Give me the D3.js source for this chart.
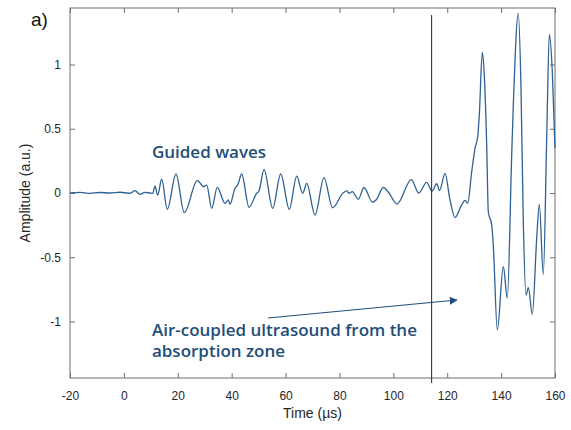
<!DOCTYPE html>
<html>
<head>
<meta charset="utf-8">
<script src="https://cdn.jsdelivr.net/npm/d3@7"></script>
<style>
  body { margin: 0; background: #fff; }
  svg { display: block; }
</style>
</head>
<body>
<svg id="chart" width="571" height="430"></svg>
<script>
// signal: time (µs) and amplitude (a.u.)
var time = [
  -20, -16.3, -12.6, -8.9, -5.2, -1.4, 2.3, 4.1, 6.0, 7.8, 9.7, 10.7,
  11.55, 12.55, 14.03, 16.11, 19.34, 22.42, 27.25, 28.6, 29.47, 30.73,
  32.59, 34.67, 37.53, 38.75, 39.38, 41.24, 42.24, 43.73, 46.43, 49.29,
  50.15, 52.0, 55.23, 58.2, 61.39, 64.14, 66.36, 67.85, 70.93, 74.27,
  77.43, 81.43, 82.7, 83.55, 84.77, 87.0, 89.12, 92.27, 93.75, 96.28,
  98.4, 101.36, 106.67, 109.42, 112.39, 114.36, 116.1, 117.17, 119.18,
  121.03, 122.89, 125.37, 126.6, 127.6, 129.09, 130.31, 131.31, 131.91,
  133.02, 133.76, 134.65, 135.25, 136.51, 137.1, 138.59, 140.82, 142.3,
  143.93, 144.53, 146.38, 147.38, 148.24, 149.24, 150.1, 151.58, 153.21,
  154.18, 155.66, 156.92, 157.89, 159.0, 160.0
];
var amplitude = [
  0.0, 0.005, -0.003, 0.004, 0.0, 0.006, -0.002, 0.018, -0.01, 0.005, 0.0, -0.003,
  0.054, -0.016, 0.107, -0.127, 0.148, -0.153, 0.096, 0.07, 0.049, 0.062,
  -0.119, 0.044, -0.08, -0.054, -0.086, 0.037, 0.062, 0.148, -0.111, -0.002,
  0.016, 0.184, -0.119, 0.148, -0.127, 0.132, -0.002, 0.075, -0.171, 0.119,
  -0.115, 0.002, 0.016, -0.002, 0.01, -0.049, 0.043, -0.072, -0.051, 0.043,
  0.0, -0.086, 0.104, 0.0, 0.083, 0.014, 0.072, 0.019, 0.153,
  -0.054, -0.191, -0.093, -0.057, -0.08, 0.166, 0.348, 0.438, 0.607,
  1.095, 0.918, 0.374, -0.146, -0.249, -0.405, -1.066, -0.574, -0.819,
  0.296, 0.685, 1.398, 0.815, -0.223, -0.794, -0.737, -0.944, -0.353,
  -0.088, -0.633, 0.426, 1.235, 0.944, 0.348
];
var xTicks = [-20, 0, 20, 40, 60, 80, 100, 120, 140, 160];
var yTicks = [-1, -0.5, 0, 0.5, 1];
var markerTime = 114.2;

var svg = d3.select("#chart"),
  margin = {top: 8, right: 16, bottom: 52, left: 70},
  width = 571 - margin.left - margin.right,
  height = 430 - margin.top - margin.bottom,
  axisColor = "#6e6e6e",
  noteColor = "#1f4e79";

var x = d3.scaleLinear().domain([-20, 160]).range([0, width]);
var y = d3.scaleLinear().domain([-1.44, 1.44]).range([height, 0]);

// plain hyphen like the original, not d3's unicode minus
var plain = function(d) { return String(d); };

var g = svg.append("g").attr("transform", "translate(" + margin.left + "," + margin.top + ")");

function styleAxis(sel) {
  sel.select(".domain").remove();
  sel.selectAll("line").attr("stroke", axisColor);
  sel.selectAll("text")
    .attr("fill", "#262626")
    .style("font-family", "Liberation Sans, Arial, sans-serif")
    .style("font-size", "12px");
}

// bottom / left axes with inward ticks
g.append("g")
  .attr("transform", "translate(0," + height + ")")
  .call(d3.axisBottom(x).tickValues(xTicks).tickSizeInner(-5).tickSizeOuter(0).tickPadding(13)
    .tickFormat(plain))
  .call(styleAxis);
g.append("g")
  .call(d3.axisLeft(y).tickValues(yTicks).tickSizeInner(-5).tickSizeOuter(0).tickPadding(9)
    .tickFormat(plain))
  .call(styleAxis);
// top / right ticks only
g.append("g")
  .call(d3.axisTop(x).tickValues(xTicks).tickSizeInner(-5).tickSizeOuter(0).tickFormat(""))
  .call(styleAxis);
g.append("g")
  .attr("transform", "translate(" + width + ",0)")
  .call(d3.axisRight(y).tickValues(yTicks).tickSizeInner(-5).tickSizeOuter(0).tickFormat(""))
  .call(styleAxis);

// box
g.append("rect")
  .attr("width", width).attr("height", height)
  .attr("fill", "none").attr("stroke", axisColor).attr("stroke-width", 1);

// signal
var pts = time.map(function(t, i) { return [t, amplitude[i]]; });
var line = d3.line()
  .x(function(d) { return x(d[0]); })
  .y(function(d) { return y(d[1]); })
  .curve(d3.curveMonotoneX);

g.append("path")
  .datum(pts)
  .attr("fill", "none")
  .attr("stroke", "#2f6193")
  .attr("stroke-width", 1.3)
  .attr("d", line);

// marker line
g.append("line")
  .attr("x1", x(markerTime)).attr("x2", x(markerTime))
  .attr("y1", y(1.385)).attr("y2", height + 5)
  .attr("stroke", "#1d3d63").attr("stroke-width", 1.1);

// arrow
svg.append("defs").append("marker")
  .attr("id", "head")
  .attr("viewBox", "0 0 10 10")
  .attr("refX", 9).attr("refY", 5)
  .attr("markerWidth", 8).attr("markerHeight", 8)
  .attr("markerUnits", "userSpaceOnUse")
  .attr("orient", "auto")
  .append("path").attr("d", "M0,0L10,5L0,10Z").attr("fill", noteColor);

g.append("line")
  .attr("x1", x(53.5)).attr("y1", y(-0.973))
  .attr("x2", x(123.6)).attr("y2", y(-0.833))
  .attr("stroke", noteColor).attr("stroke-width", 1.2)
  .attr("marker-end", "url(#head)");

// annotations
var note = g.append("g")
  .attr("fill", noteColor)
  .style("font-family", "Open Sans, sans-serif")
  .style("font-weight", 600)
  .style("font-size", "17px");
note.append("text").attr("x", x(10.4)).attr("y", y(0.27)).text("Guided waves");
note.append("text").attr("x", x(10.4)).attr("y", y(-1.11)).text("Air-coupled ultrasound from the");
note.append("text").attr("x", x(10.4)).attr("y", y(-1.28)).text("absorption zone");

// axis titles
svg.append("text")
  .attr("x", margin.left + width / 2).attr("y", 418)
  .attr("text-anchor", "middle")
  .attr("fill", "#262626")
  .style("font-family", "Liberation Sans, Arial, sans-serif")
  .style("font-size", "14px")
  .text("Time (µs)");
svg.append("text")
  .attr("transform", "translate(30," + (margin.top + y(0)) + ") rotate(-90)")
  .attr("text-anchor", "middle")
  .attr("fill", "#262626")
  .style("font-family", "Liberation Sans, Arial, sans-serif")
  .style("font-size", "14px")
  .text("Amplitude (a.u.)");

svg.append("text")
  .attr("x", 31).attr("y", 26)
  .attr("fill", "#111")
  .style("font-family", "Liberation Sans, Arial, sans-serif")
  .style("font-size", "19px")
  .text("a)");
</script>
</body>
</html>
